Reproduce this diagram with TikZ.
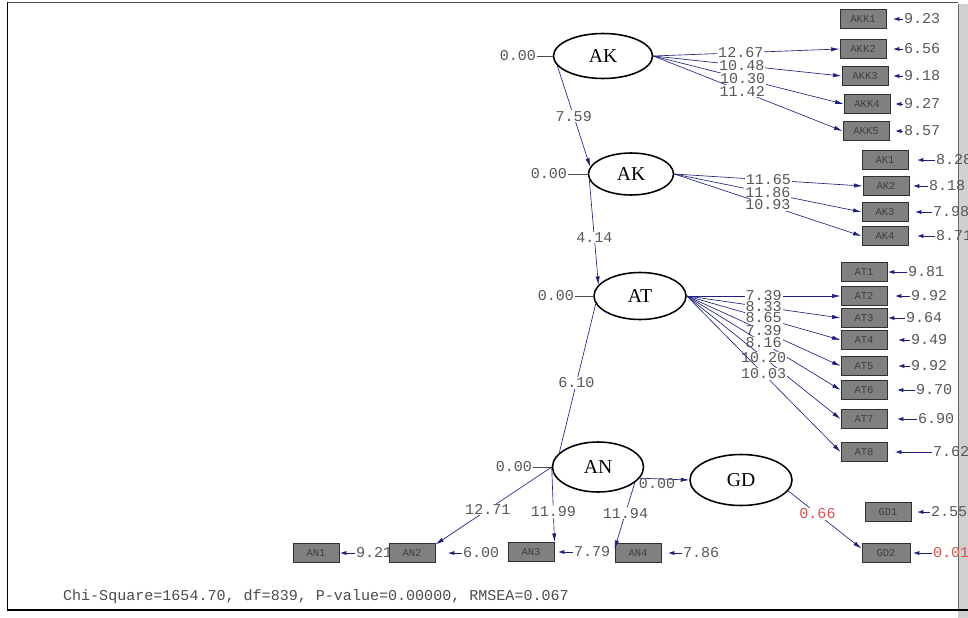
\documentclass[tikz,border=0pt]{standalone}
\usepackage{fontspec}
\setmainfont{Liberation Serif}
\setmonofont{Liberation Mono}
\usetikzlibrary{shapes.geometric, arrows.meta, positioning, calc}
\definecolor{pathnavy}{HTML}{1E1E82}
\definecolor{valgray}{HTML}{585858}
\definecolor{boxgray}{HTML}{808080}
\definecolor{boxedge}{HTML}{303030}
\definecolor{valred}{HTML}{D9534F}
\definecolor{barlight}{HTML}{D0D0D0}
\tikzset{
  latent/.style={ellipse, draw=black, line width=1.1pt, fill=white, inner sep=0pt, font=\fontsize{14}{14}\selectfont},
  indicator/.style={rectangle, draw=boxedge, line width=0.7pt, fill=boxgray, inner sep=0pt, minimum width=1.15cm, minimum height=0.48cm, text=black!75, font=\ttfamily\fontsize{7.5}{7.5}\selectfont},
  tval/.style={text=valgray, font=\ttfamily\fontsize{10.7}{10.7}\selectfont, inner sep=0.6pt},
  coef/.style={tval, fill=white},
  errval/.style={tval, anchor=west},
  loading/.style={draw=pathnavy, line width=0.45pt, -{Latex[length=6pt,width=3pt]}},
  plainpath/.style={draw=pathnavy, line width=0.45pt},
  varline/.style={draw=black!70, line width=0.5pt},
  errarrow/.style={draw=pathnavy, line width=0.6pt, -{Latex[length=4.5pt,width=3pt]}}
}
\begin{document}
\begin{tikzpicture}[x=0.025cm, y=-0.025cm]
  % Frame
  \useasboundingbox (0,0) rectangle (968,618);
  \fill[white] (0,0) rectangle (968,618);
  \fill[barlight] (958,4) rectangle (968,618);
  \draw[black!60, line width=0.5pt] (958,4) -- (958,610);
  \draw[black!70, line width=0.7pt] (7,2) -- (958,2);
  \draw[black, line width=1.3pt] (7.5,2) -- (7.5,610) -- (968,610);

  % Latent variables
  \node[latent, minimum width=2.475cm, minimum height=1.125cm] (lvAKK) at (603,56) {AK};
  \node[latent, minimum width=2.125cm, minimum height=1.05cm] (lvAK) at (631,174) {AK};
  \node[latent, minimum width=2.3cm, minimum height=1.175cm] (lvAT) at (640,296) {AT};
  \node[latent, minimum width=2.275cm, minimum height=1.25cm] (lvAN) at (598,467) {AN};
  \node[latent, minimum width=2.55cm, minimum height=1.275cm] (lvGD) at (741,480) {GD};

  % Variances of the latents
  \foreach \lv/\x/\y in {AKK/537/56, AK/568/174, AT/575/296, AN/533/467} {
    \node[tval, anchor=east] (z\lv) at (\x,\y) {0.00};
    \draw[varline] (z\lv.east) -- (lv\lv.west);
  }

  % Observed variables with error values
  \foreach \name/\x/\y/\tx/\tip/\val in {AKK1/863/19/903/893/9.23, AKK2/863/49/903/893/6.56, AKK3/865/76/903/893/9.18, AKK4/867/104/903/895/9.27, AKK5/866/131/903/895/8.57,
      AK1/885/160/935/917/8.28, AK2/886/186/928/913/8.18, AK3/885/212/932/915/7.98, AK4/885/236/935/917/8.71,
      AT1/864/272/907/888/9.81, AT2/864/296/910/895/9.92, AT3/864/318/905/888/9.64, AT4/864/340/910/898/9.49,
      AT5/864/366/910/898/9.92, AT6/864/390/915/897/9.70, AT7/864/419/917/897/6.90, AT8/864/452/932/895/7.62,
      AN1/316/553/355/340/9.21, AN2/412/553/462/448/6.00, AN3/531/552/573/558/7.79, AN4/638/553/682/668/7.86,
      GD1/888/512/930/917/2.55} {
    \node[indicator] (\name) at (\x,\y) {\name};
    \node[errval] (e\name) at (\tx,\y) {\val};
    \coordinate (t\name) at (\tip,\y);
    \draw[errarrow] (e\name.west) -- (t\name);
  }
  \node[indicator, minimum width=1.2cm] (GD2) at (886,553) {GD2};
  \node[errval, text=valred] (eGD2) at (932,553) {0.01};
  \coordinate (tGD2) at (913,553);
  \draw[errarrow] (eGD2.west) -- (tGD2);

  % Loadings of AK (AKK items)
  \foreach \item/\val in {AKK2/12.67, AKK3/10.48, AKK4/10.30, AKK5/11.42}
    \draw[loading] (lvAKK.east) -- node[coef, pos=0.47] {\val} (\item.west);

  % Loadings of AK
  \foreach \item/\val in {AK2/11.65, AK3/11.86, AK4/10.93}
    \draw[loading] (lvAK.east) -- node[coef, pos=0.5] {\val} (\item.west);

  % Loadings of AT
  \foreach \item/\val in {AT2/7.39, AT3/8.33, AT4/8.65, AT5/7.39, AT6/8.16, AT7/10.20, AT8/10.03}
    \draw[loading] (lvAT.east) -- node[coef, pos=0.5] {\val} (\item.west);

  % Structural paths
  \draw[loading] (lvAKK.192) -- node[coef] {7.59} (lvAK.170);
  \draw[loading] (lvAK.188) -- node[coef, pos=0.55] {4.14} (lvAT.165);
  \draw[plainpath] (lvAT.190) -- node[coef, pos=0.53] {6.10} (lvAN.160);
  \draw[loading] (lvAN.345) -- node[tval, pos=0.35, yshift=-0.12cm] {0.00} (lvGD.west);

  % Loadings of AN and GD
  \draw[loading] (lvAN.west) -- node[coef, pos=0.55] {12.71} (AN2.20);
  \draw[loading] (lvAN.west) -- node[coef, pos=0.6] {11.99} (AN3.north east);
  \draw[loading] (lvAN.337) -- node[coef, pos=0.46] {11.94} (AN4.170);
  \draw[loading] (lvGD.347) -- node[coef, text=valred, pos=0.4] {0.66} (GD2.170);

  % Fit statistics
  \node[tval, anchor=west, text=black!70] (fit) at (62,597) {Chi-Square=1654.70, df=839, P-value=0.00000, RMSEA=0.067};
\end{tikzpicture}
\end{document}
